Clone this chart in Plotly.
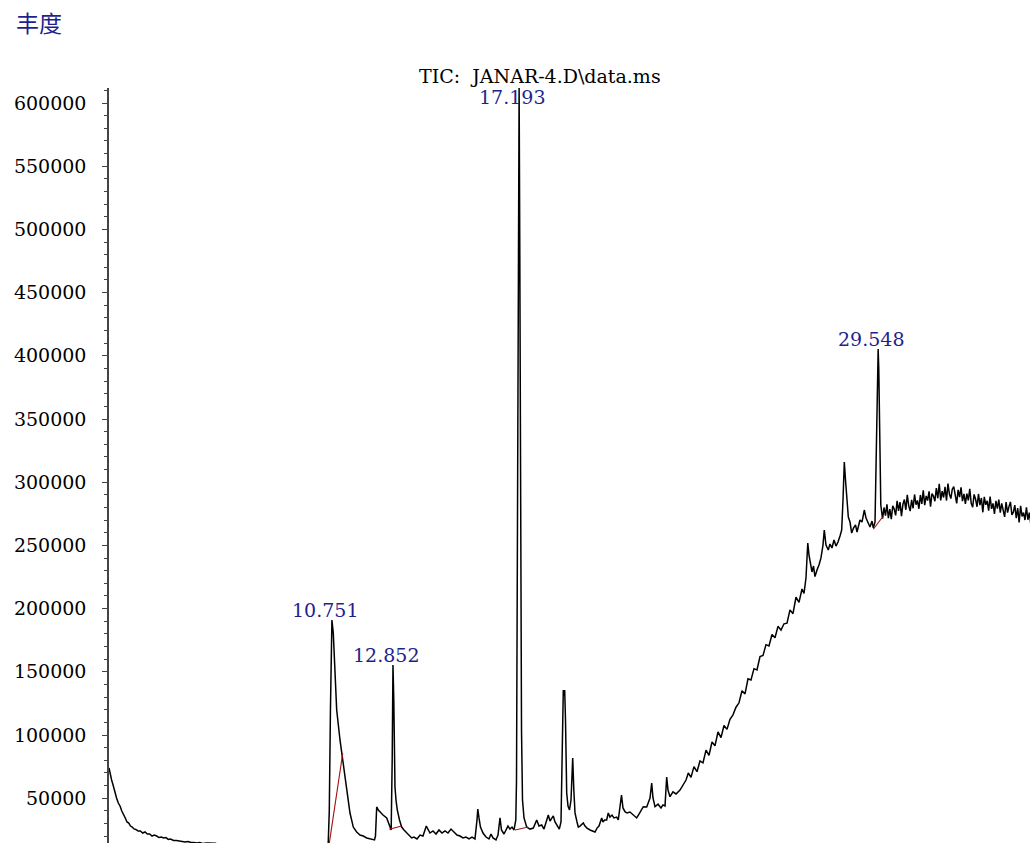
import plotly.graph_objects as go

# ---------------- data (retention time in min, abundance) ----------------
t_solvent = [3.08, 3.12, 3.17, 3.22, 3.28, 3.34, 3.40, 3.46, 3.52, 3.58, 3.64, 3.70, 3.76, 3.82,
             3.88, 3.94, 4.00, 4.08, 4.16, 4.24, 4.32, 4.40, 4.48, 4.56, 4.64, 4.72, 4.80, 4.88,
             4.96, 5.04, 5.12, 5.20, 5.30, 5.40, 5.50, 5.60, 5.70, 5.80, 5.90, 6.00, 6.10, 6.20,
             6.30, 6.45, 6.60, 6.75, 6.90, 7.50, 8.00, 8.50, 9.00, 9.50, 10.00, 10.45]
a_solvent = [73900, 68400, 64400, 60500, 54900, 50200, 46200, 43900, 39900, 37500, 34400, 31200, 30400, 28000,
             27200, 25700, 25300, 24100, 24100, 22500, 23300, 21700, 21700, 20100, 20900, 20100, 18900, 19300,
             18500, 18900, 17400, 17700, 16600, 16600, 16200, 15800, 15400, 15800, 15000, 15000, 14600, 15000,
             14200, 14600, 14200, 14300, 12500, 12000, 11500, 11000, 10700, 10500, 10300, 10200]

t_mid = [10.55, 10.62, 10.66, 10.70, 10.735, 10.751, 10.798, 10.857, 10.915, 11.029, 11.142, 11.259,
         11.373, 11.486, 11.603, 11.717, 11.831, 11.948, 12.061, 12.216, 12.250, 12.292, 12.347, 12.405,
         12.509, 12.636, 12.715, 12.790, 12.825, 12.852, 12.880, 12.921, 12.956, 13.000, 13.077, 13.152,
         13.231, 13.324, 13.404, 13.496, 13.575, 13.679, 13.782, 13.885, 13.999, 14.057, 14.126, 14.229,
         14.333, 14.436, 14.539, 14.642, 14.745, 14.849, 14.952, 15.055, 15.158, 15.261, 15.364, 15.468,
         15.571, 15.674, 15.743, 15.771, 15.812, 15.863, 15.950, 16.053, 16.156, 16.225, 16.294, 16.397,
         16.466, 16.535, 16.586, 16.672, 16.741, 16.810, 16.879, 16.948, 17.017, 17.079, 17.103, 17.137,
         17.165, 17.193, 17.216, 17.244, 17.275, 17.309, 17.361, 17.454, 17.568, 17.681, 17.798, 17.877,
         17.970, 18.049, 18.118, 18.197, 18.255, 18.314, 18.369, 18.428, 18.497, 18.576, 18.634, 18.686,
         18.713, 18.737, 18.761, 18.789, 18.830, 18.875, 18.927, 18.978, 19.037, 19.075, 19.116, 19.185,
         19.230, 19.288, 19.357, 19.402, 19.460, 19.529, 19.632, 19.701, 19.804, 19.873, 19.941, 20.034,
         20.079, 20.131, 20.205, 20.261, 20.319, 20.388, 20.457, 20.550, 20.605, 20.716, 20.767, 20.836,
         20.905, 21.008, 21.111, 21.238, 21.318, 21.387, 21.466, 21.583, 21.628, 21.697, 21.755, 21.800,
         21.869, 21.972, 22.075, 22.144, 22.213, 22.271, 22.316, 22.385, 22.488, 22.591, 22.729, 22.832,
         22.936]
a_mid = [10300, 12000, 40000, 120000, 185000, 191000, 180700, 151400, 119800, 96100, 77900, 58900,
         38300, 27200, 23300, 20900, 20100, 18600, 17800, 17000, 20100, 43100, 40700, 39100,
         36700, 34400, 29600, 24900, 80000, 155400, 127700, 58900, 48600, 40700, 32800, 27200,
         24900, 22500, 20100, 18600, 19300, 17800, 20900, 20100, 28000, 24900, 22500, 24100,
         21700, 24900, 22500, 24100, 22500, 25600, 23300, 20900, 20100, 18600, 19300, 17800,
         19300, 17800, 32800, 41500, 34400, 27200, 22500, 19300, 17800, 21700, 18600, 17000,
         20900, 34400, 24900, 21700, 24900, 28000, 25600, 27200, 24900, 32800, 64400, 287400,
         483700, 612000, 483700, 270100, 104000, 48600, 34400, 27200, 25600, 26400, 32800, 28000,
         28800, 25600, 31200, 36700, 32000, 34400, 36000, 31200, 28000, 25600, 31200, 96100,
         135600, 131000, 135600, 111900, 54100, 43800, 40700, 48600, 81800, 56500, 38300, 31200,
         27200, 28000, 29600, 30400, 28000, 26400, 24900, 24100, 23300, 26400, 28000, 34400,
         31200, 32800, 32800, 38300, 35100, 36700, 34400, 35100, 32800, 52500, 42300, 39400,
         38300, 39100, 36700, 34400, 37500, 40700, 43300, 43100, 46200, 50200, 62000, 50200,
         43300, 45300, 42300, 44700, 43900, 66800, 56500, 51200, 55000, 53400, 56500, 60500,
         64400]

t_rise = [23.015, 23.107, 23.210, 23.314, 23.417, 23.520, 23.624, 23.727, 23.830, 23.933, 24.037,
          24.140, 24.243, 24.346, 24.449, 24.552, 24.656, 24.759, 24.862, 24.966, 25.069, 25.172,
          25.275, 25.378, 25.482, 25.585, 25.688, 25.791, 25.895, 25.998, 26.101, 26.204, 26.308,
          26.411, 26.514, 26.617, 26.720, 26.824, 26.927, 26.996, 27.064, 27.099, 27.126, 27.168,
          27.219, 27.271, 27.323, 27.374, 27.443, 27.511, 27.580, 27.649, 27.694, 27.752, 27.832,
          27.890, 27.959, 28.028, 28.097, 28.166, 28.235, 28.293, 28.338, 28.383, 28.424, 28.476,
          28.521, 28.579, 28.637, 28.699, 28.768, 28.820, 28.865, 28.923, 28.992, 29.071, 29.130,
          29.209, 29.267, 29.336, 29.381, 29.440, 29.484, 29.519, 29.548, 29.570, 29.605, 29.639,
          29.670]
a_rise = [70000, 66500, 75000, 71000, 79500, 78000, 88000, 84000, 94500, 91500, 102500,
          98000, 107500, 104500, 112500, 116000, 122000, 125500, 135000, 132500, 144500, 143500,
          152500, 151500, 162000, 163000, 171500, 170500, 179500, 177000, 186000, 183000, 188000,
          188500, 199000, 196000, 209000, 205000, 215500, 212000, 224200, 238500, 251900, 242400,
          233700, 229000, 233700, 225300, 230600, 234500, 240100, 250300, 262200, 250300, 246400,
          251100, 248000, 254300, 249500, 252700, 257500, 262200, 285900, 316000, 301800, 282000,
          272500, 268500, 259800, 263800, 266200, 260600, 265400, 270100, 268500, 278000, 271700,
          267000, 264600, 269300, 263800, 268500, 333000, 396700, 405400, 388800, 317600, 282000,
          276400]

t_late = [29.70, 29.75, 29.80, 29.85, 29.90, 29.95, 30.00, 30.05, 30.10, 30.15, 30.20, 30.25, 30.30,
          30.35, 30.40, 30.45, 30.50, 30.55, 30.60, 30.65, 30.70, 30.75, 30.80, 30.85, 30.90, 30.95,
          31.00, 31.05, 31.10, 31.15, 31.20, 31.25, 31.30, 31.35, 31.40, 31.45, 31.50, 31.55, 31.60,
          31.65, 31.70, 31.75, 31.80, 31.85, 31.90, 31.95, 32.00, 32.05, 32.10, 32.15, 32.20, 32.25,
          32.30, 32.35, 32.40, 32.45, 32.50, 32.55, 32.60, 32.65, 32.70, 32.75, 32.80, 32.85, 32.90,
          32.95, 33.00, 33.05, 33.10, 33.15, 33.20, 33.25, 33.30, 33.35, 33.40, 33.45, 33.50, 33.55,
          33.60, 33.65, 33.70, 33.75, 33.80, 33.85, 33.90, 33.95, 34.00, 34.05, 34.10, 34.15, 34.20,
          34.25, 34.30, 34.35, 34.40, 34.45, 34.50, 34.55, 34.60, 34.65, 34.70, 34.75, 34.80]
a_late = [271100, 280000, 273500, 282500, 271500, 278800, 270800, 281300, 278800, 273800, 285300, 277300, 284300,
          273200, 282500, 286300, 278200, 290000, 281300, 277200, 286000, 279400, 290300, 282200, 285600, 279000,
          289900, 282800, 293600, 281900, 289200, 285500, 292800, 280600, 291000, 289000, 285000, 295400, 287300,
          298700, 285600, 293000, 287900, 296300, 285500, 298900, 290700, 287000, 294700, 296500, 287600, 283300,
          294000, 288200, 295900, 285100, 290800, 282900, 291000, 285600, 294700, 283300, 280300, 290400, 286500,
          280600, 290700, 281800, 287500, 276200, 288400, 282100, 285300, 277500, 288700, 278900, 283200, 275000,
          285300, 279100, 286300, 276000, 283200, 278400, 272600, 284300, 276000, 280700, 284400, 274100, 276300,
          281900, 271500, 279600, 268200, 281300, 272900, 276000, 270100, 280200, 270300, 275900, 267000]

ret_time = t_solvent + t_mid + t_rise + t_late
abundance = a_solvent + a_mid + a_rise + a_late

# integration baselines (start time, start abundance, end time, end abundance)
base_t0 = [10.60, 12.726, 17.051, 29.381]
base_a0 = [5000, 25400, 24900, 262800]
base_t1 = [11.122, 13.152, 17.509, 29.725]
base_a1 = [85500, 28000, 27200, 273300]

# labelled peaks
peak_times = [10.751, 12.852, 17.193, 29.548]
peak_heights = [191000, 155400, 612000, 405400]
peak_labels = ["10.751", "12.852", "17.193", "29.548"]

y_tick_values = [50000, 100000, 150000, 200000, 250000, 300000, 350000, 400000,
                 450000, 500000, 550000, 600000]
y_tick_text = ["50000", "100000", "150000", "200000", "250000", "300000", "350000", "400000",
               "450000", "500000", "550000", "600000"]

chart_title = "TIC:  JANAR-4.D\\data.ms"
y_title = "丰度"

# ---------------- figure ----------------
Y_MIN, Y_MAX = 14586, 611866
X_MIN, X_MAX = 3.08, 34.773
SERIF = "DejaVu Serif"
BLUE = "#1f1f8f"

fig = go.Figure()
fig.add_trace(go.Scatter(x=ret_time, y=abundance, mode="lines",
                         line=dict(color="black", width=1.5), hoverinfo="skip"))
for i in range(len(base_t0)):
    fig.add_trace(go.Scatter(x=[base_t0[i], base_t1[i]], y=[base_a0[i], base_a1[i]],
                             mode="lines", line=dict(color="#a01010", width=1.1),
                             hoverinfo="skip"))

annotations = []
for t, h, lab in zip(peak_times, peak_heights, peak_labels):
    if h >= Y_MAX:
        annotations.append(dict(x=t, y=1, xref="x", yref="paper", text=lab, showarrow=False,
                                xanchor="center", yanchor="middle", xshift=-7, yshift=-9,
                                font=dict(family=SERIF, size=19, color=BLUE)))
    else:
        annotations.append(dict(x=t, y=h, xref="x", yref="y", text=lab, showarrow=False,
                                xanchor="center", yanchor="middle", xshift=-7, yshift=10,
                                font=dict(family=SERIF, size=19, color=BLUE)))

annotations.append(dict(x=0.468, y=1, xref="paper", yref="paper", text=chart_title,
                        showarrow=False, xanchor="center", yanchor="bottom", yshift=-1,
                        font=dict(family=SERIF, size=19, color="black")))
annotations.append(dict(x=-0.076, y=1, xref="paper", yref="paper", text=y_title,
                        showarrow=False, xanchor="center", yanchor="middle", yshift=66,
                        font=dict(family="Noto Sans CJK SC", size=23, color=BLUE)))

fig.update_layout(
    width=1030, height=843,
    margin=dict(l=109, r=0, t=88, b=0),
    paper_bgcolor="white", plot_bgcolor="white",
    showlegend=False,
    annotations=annotations,
    xaxis=dict(range=[X_MIN, X_MAX], visible=False, showgrid=False, zeroline=False),
    yaxis=dict(range=[Y_MIN, Y_MAX], tickvals=y_tick_values, ticktext=y_tick_text,
               ticks="outside", ticklen=5, tickwidth=1, tickcolor="#444",
               showline=True, linecolor="#444", linewidth=1.5,
               showgrid=False, zeroline=False, ticklabelstandoff=12,
               tickfont=dict(family=SERIF, size=19, color="black"),
               minor=dict(tickmode="linear", tick0=0, dtick=10000, ticks="outside",
                          ticklen=3, tickcolor="#444", showgrid=False)),
)

fig.write_html("out.html", config={"displayModeBar": False},
               post_script="document.body.style.margin='0px';document.body.style.overflow='hidden';")
